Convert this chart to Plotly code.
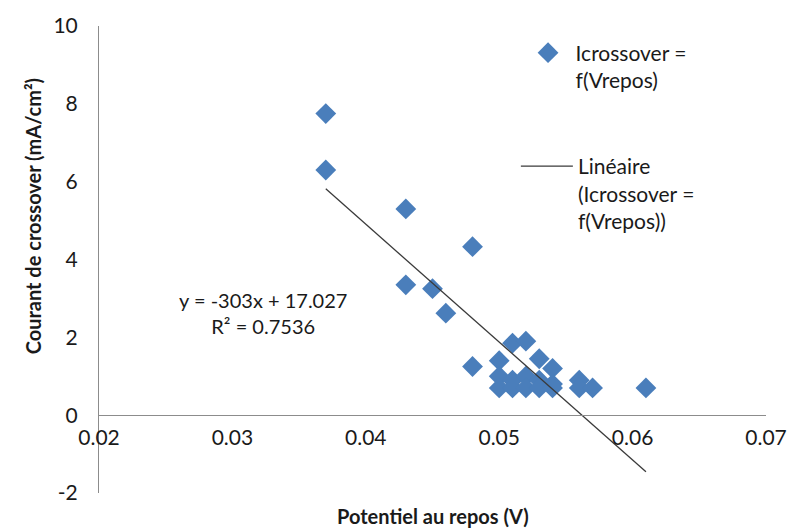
import plotly.graph_objects as go

# Data
v_repos = [0.037, 0.037, 0.043, 0.048, 0.043, 0.045, 0.046, 0.048,
           0.050, 0.050, 0.050, 0.051, 0.051, 0.051, 0.052, 0.052, 0.052,
           0.053, 0.053, 0.053, 0.054, 0.054, 0.054, 0.056, 0.056, 0.057, 0.061]
i_cross = [7.75, 6.30, 5.30, 4.33, 3.35, 3.25, 2.62, 1.25,
           1.40, 1.00, 0.70, 1.85, 0.90, 0.70, 1.90, 1.00, 0.70,
           1.45, 0.90, 0.70, 1.20, 0.80, 0.70, 0.90, 0.70, 0.70, 0.70]

# Linear trend line coefficients (from the chart's equation)
slope = -303.0
intercept = 17.027
r_squared = 0.7536

x_ticks = [0.02, 0.03, 0.04, 0.05, 0.06, 0.07]
y_ticks = [-2, 0, 2, 4, 6, 8, 10]

x_fit = [min(v_repos), max(v_repos)]
y_fit = [slope * x + intercept for x in x_fit]

FONT = "Lato"
TXT = "#1a1a1a"

fig = go.Figure()
fig.add_trace(go.Scatter(
    x=v_repos, y=i_cross, mode="markers",
    name="Icrossover =<br>f(Vrepos)",
    marker=dict(symbol="diamond", size=16, color="#4A7EBB",
                line=dict(width=0)),
    legend="legend", showlegend=True,
))
fig.add_trace(go.Scatter(
    x=x_fit, y=y_fit, mode="lines",
    name="Linéaire<br>(Icrossover =<br>f(Vrepos))",
    line=dict(color="#3a3a3a", width=1.3),
    legend="legend2", showlegend=True,
))

fig.update_layout(
    width=799, height=531,
    showlegend=True,
    margin=dict(l=99, r=25, t=20, b=38),
    paper_bgcolor="white", plot_bgcolor="white",
    font=dict(family=FONT, size=20, color=TXT),
    legend=dict(x=0.632, y=0.986, xanchor="left", yanchor="top",
                font=dict(family=FONT, size=21, color=TXT),
                valign="top", itemwidth=45, bgcolor="rgba(0,0,0,0)"),
    legend2=dict(x=0.625, y=0.743, xanchor="left", yanchor="top",
                 font=dict(family=FONT, size=21, color=TXT),
                 valign="top", itemwidth=52, bgcolor="rgba(0,0,0,0)"),
    xaxis=dict(range=[0.02, 0.07], tickvals=x_ticks,
               ticktext=[f"{t:g}" for t in x_ticks],
               showgrid=False, zeroline=False,
               showline=True, linecolor="#8c8c8c", linewidth=1,
               anchor="free", position=2 / 12,
               ticks="outside", ticklen=4, tickcolor="rgba(0,0,0,0)",
               tickfont=dict(family=FONT, size=21, color=TXT)),
    yaxis=dict(range=[-2, 10], tickvals=y_ticks,
               ticktext=[str(t) for t in y_ticks],
               showgrid=False, zeroline=False,
               showline=True, linecolor="#8c8c8c", linewidth=1,
               ticks="outside", ticklen=16, tickcolor="rgba(0,0,0,0)",
               tickfont=dict(family=FONT, size=21, color=TXT)),
    annotations=[
        dict(text="Potentiel au repos (V)", xref="paper", yref="paper",
             x=(437 - 99) / 675, y=-(516 - 493) / 473, showarrow=False,
             font=dict(family=FONT, size=20, color=TXT, weight="bold"),
             xanchor="center", yanchor="middle"),
        dict(text="Courant de crossover (mA/cm²)", xref="paper", yref="paper",
             x=-(99 - 32) / 675, y=(493 - 213) / 473, showarrow=False,
             textangle=-90,
             font=dict(family=FONT, size=20, color=TXT, weight="bold"),
             xanchor="center", yanchor="middle"),
        dict(text=f"y = {slope:g}x + {intercept:g}<br>R² = {r_squared:g}",
             xref="paper", yref="paper",
             x=(265 - 99) / 675, y=(493 - 311) / 473, showarrow=False,
             align="center",
             font=dict(family=FONT, size=20, color=TXT),
             xanchor="center", yanchor="middle"),
    ],
)

fig.write_html("out.html")
